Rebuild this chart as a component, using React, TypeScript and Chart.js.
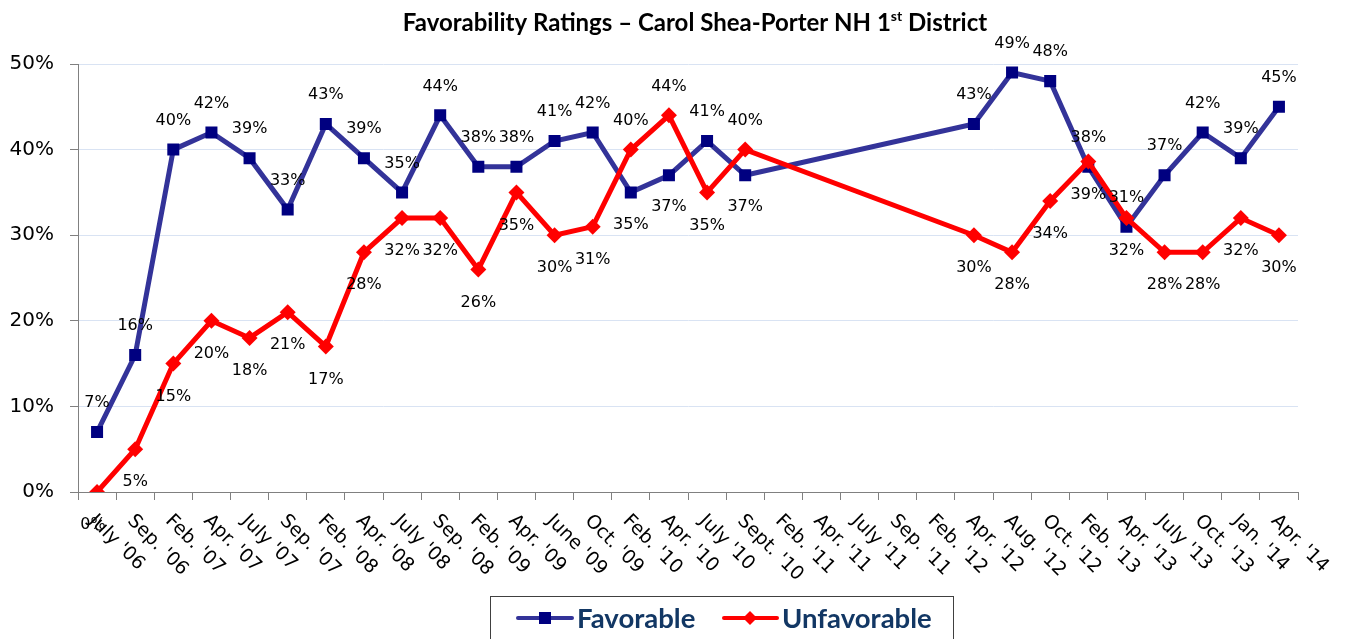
import React, { useEffect, useRef } from 'react';
import { Chart, registerables } from 'chart.js';

Chart.register(...registerables);

const categories = [
  "July '06", "Sep. '06", "Feb. '07", "Apr. '07", "July '07", "Sep. '07", "Feb. '08", "Apr. '08",
  "July '08", "Sep. '08", "Feb. '09", "Apr. '09", "June '09", "Oct. '09", "Feb. '10", "Apr. '10",
  "July '10", "Sept. '10", "Feb. '11", "Apr. '11", "July '11", "Sep. '11", "Feb. '12", "Apr. '12",
  "Aug. '12", "Oct. '12", "Feb. '13", "Apr. '13", "July '13", "Oct. '13", "Jan. '14", "Apr. '14",
];

const favorable: (number | null)[] = [
  7, 16, 40, 42, 39, 33, 43, 39, 35, 44, 38, 38, 41, 42, 35, 37, 41, 37,
  null, null, null, null, null, 43, 49, 48, 38, 31, 37, 42, 39, 45,
];

const unfavorable: (number | null)[] = [
  0, 5, 15, 20, 18, 21, 17, 28, 32, 32, 26, 35, 30, 31, 40, 44, 35, 40,
  null, null, null, null, null, 30, 28, 34, 38.6, 32, 28, 28, 32, 30,
];

const yTicks = [0, 10, 20, 30, 40, 50];

// categories where the two series' labels swap sides (favorable below, unfavorable above)
const swappedLabelCats = ["Feb. '10", "Apr. '10", "Sept. '10"];

const seriesNames = ['Favorable', 'Unfavorable'];
const titleMain = 'Favorability Ratings \u2013 Carol Shea-Porter NH 1';
const titleSup = 'st';
const titleEnd = ' District';

const W = 1345;
const H = 639;

const FAV_LINE = '#333399';
const FAV_MARK = '#000080';
const UNF = '#FF0000';

const drawSquare = (ctx: CanvasRenderingContext2D, x: number, y: number, s: number, c: string) => {
  ctx.fillStyle = c;
  ctx.fillRect(x - s / 2, y - s / 2, s, s);
};
const drawDiamond = (ctx: CanvasRenderingContext2D, x: number, y: number, r: number, c: string) => {
  ctx.fillStyle = c;
  ctx.beginPath();
  ctx.moveTo(x, y - r);
  ctx.lineTo(x + r, y);
  ctx.lineTo(x, y + r);
  ctx.lineTo(x - r, y);
  ctx.closePath();
  ctx.fill();
};

const ABOVE = -29;
const BELOW = 32;

const customPlugin = {
  id: 'custom',
  afterDatasetsDraw(chart: any) {
    const ctx: CanvasRenderingContext2D = chart.ctx;
    ctx.save();
    ctx.font = '16px "DejaVu Sans"';
    ctx.fillStyle = '#000';
    ctx.textAlign = 'center';
    ctx.textBaseline = 'middle';
    const m0 = chart.getDatasetMeta(0);
    m0.data.forEach((pt: any, i: number) => {
      const v = favorable[i];
      if (v == null) return;
      const swap = swappedLabelCats.includes(categories[i]);
      ctx.fillText(Math.round(v) + '%', pt.x, pt.y + (swap ? BELOW : ABOVE));
    });
    const m1 = chart.getDatasetMeta(1);
    m1.data.forEach((pt: any, i: number) => {
      const v = unfavorable[i];
      if (v == null) return;
      const swap = swappedLabelCats.includes(categories[i]);
      ctx.fillText(Math.round(v) + '%', pt.x - (i === 0 ? 4 : 0), pt.y + (swap ? ABOVE : BELOW + 1));
    });
    ctx.restore();
  },
  afterDraw(chart: any) {
    const ctx: CanvasRenderingContext2D = chart.ctx;
    const xs = chart.scales.x;
    // x labels rotated
    ctx.save();
    ctx.font = '19px "DejaVu Sans"';
    ctx.fillStyle = '#000';
    ctx.textAlign = 'left';
    ctx.textBaseline = 'middle';
    categories.forEach((c, i) => {
      const x = xs.getPixelForValue(i);
      ctx.save();
      ctx.translate(x - 5, xs.top + 26);
      ctx.rotate(Math.PI / 4);
      ctx.fillText(c, 0, 0);
      ctx.restore();
    });
    ctx.restore();

    // title
    ctx.save();
    ctx.fillStyle = '#000';
    ctx.textBaseline = 'alphabetic';
    ctx.textAlign = 'left';
    const fMain = 'bold 24px Lato';
    const fSup = 'bold 14px Lato';
    ctx.font = fMain;
    const w1 = ctx.measureText(titleMain).width;
    const w3 = ctx.measureText(titleEnd).width;
    ctx.font = fSup;
    const w2 = ctx.measureText(titleSup).width;
    const total = w1 + w2 + w3;
    const cx = 695;
    let tx = cx - total / 2;
    const by = 31;
    ctx.font = fMain;
    ctx.fillText(titleMain, tx, by);
    tx += w1;
    ctx.font = fSup;
    ctx.fillText(titleSup, tx, by - 10);
    tx += w2;
    ctx.font = fMain;
    ctx.fillText(titleEnd, tx, by);
    ctx.restore();

    // legend
    ctx.save();
    ctx.strokeStyle = '#404040';
    ctx.lineWidth = 1;
    ctx.strokeRect(490.5, 596.5, 463, 60);
    const ly = 618;
    ctx.lineCap = 'round';
    ctx.lineWidth = 4;
    ctx.strokeStyle = FAV_LINE;
    ctx.beginPath();
    ctx.moveTo(518, ly);
    ctx.lineTo(572, ly);
    ctx.stroke();
    drawSquare(ctx, 545, ly, 12, FAV_MARK);
    ctx.strokeStyle = UNF;
    ctx.beginPath();
    ctx.moveTo(724, ly);
    ctx.lineTo(777, ly);
    ctx.stroke();
    drawDiamond(ctx, 750, ly, 7, UNF);
    ctx.font = 'bold 27.5px Lato';
    ctx.fillStyle = '#123764';
    ctx.textAlign = 'left';
    ctx.textBaseline = 'middle';
    ctx.fillText(seriesNames[0], 577, ly + 1);
    ctx.fillText(seriesNames[1], 782, ly + 1);
    ctx.restore();
  },
};

export default function App() {
  const ref = useRef<HTMLCanvasElement>(null);
  useEffect(() => {
    const canvas = ref.current!;
    const chart = new Chart(canvas, {
      type: 'line',
      data: {
        labels: categories,
        datasets: [
          {
            label: seriesNames[0],
            data: favorable,
            borderColor: FAV_LINE,
            backgroundColor: FAV_MARK,
            pointBackgroundColor: FAV_MARK,
            pointBorderColor: FAV_MARK,
            pointBorderWidth: 0,
            pointStyle: 'rect',
            pointRadius: 8.5,
            borderWidth: 5,
            spanGaps: true,
            tension: 0,
            order: 1,
          },
          {
            label: seriesNames[1],
            data: unfavorable,
            borderColor: UNF,
            backgroundColor: UNF,
            pointBackgroundColor: UNF,
            pointBorderColor: UNF,
            pointBorderWidth: 0,
            pointStyle: 'rectRot',
            pointRadius: 8,
            borderWidth: 5,
            spanGaps: true,
            tension: 0,
            order: 0,
          },
        ],
      },
      options: {
        responsive: false,
        maintainAspectRatio: false,
        animation: false,
        events: [],
        layout: { padding: { left: 0, right: 47, top: 64, bottom: 0 } },
        plugins: {
          legend: { display: false },
          title: { display: false },
          tooltip: { enabled: false },
        },
        scales: {
          x: {
            type: 'category',
            offset: true,
            grid: {
              offset: true,
              drawOnChartArea: false,
              drawTicks: true,
              tickLength: 8,
              tickColor: '#808080',
              color: '#808080',
            },
            border: { color: '#808080', width: 1 },
            ticks: { display: false },
            afterFit: (s: any) => {
              s.height = 147;
            },
          },
          y: {
            min: 0,
            max: 50,
            afterBuildTicks: (s: any) => {
              s.ticks = yTicks.map((v) => ({ value: v }));
            },
            ticks: {
              callback: (v: any) => v + '%',
              font: { family: 'DejaVu Sans', size: 20 },
              color: '#000',
              padding: 16,
            },
            grid: {
              color: '#D9E3F3',
              tickColor: '#808080',
              tickLength: 8,
            },
            border: { color: '#808080', width: 1 },
            afterFit: (s: any) => {
              s.width = 78;
            },
          },
        },
      },
      plugins: [customPlugin],
    } as any);
    return () => chart.destroy();
  }, []);
  return (
    <div style={{ position: 'fixed', left: 0, top: 0, width: W, height: H, background: '#fff' }}>
      <canvas ref={ref} width={W} height={H} style={{ width: W, height: H, display: 'block' }} />
    </div>
  );
}
